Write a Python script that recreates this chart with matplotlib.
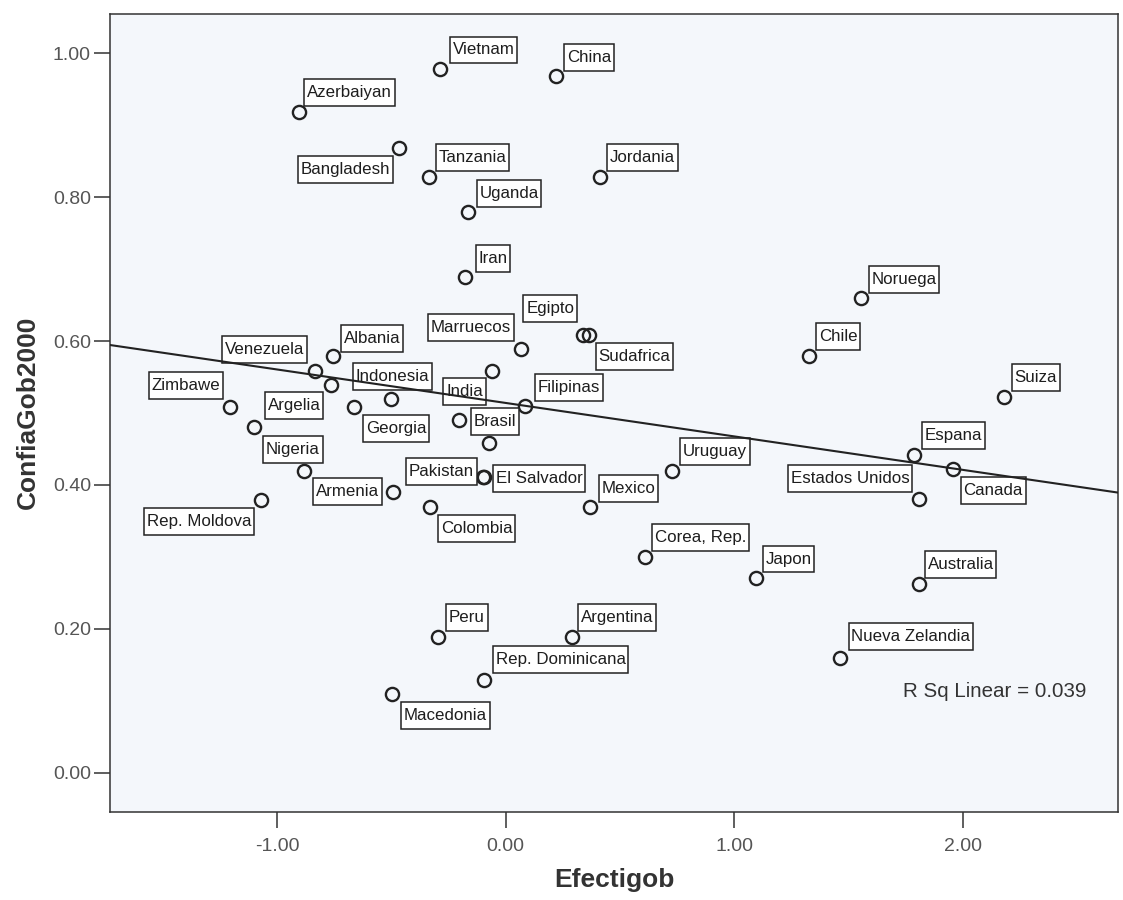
import matplotlib
matplotlib.use('agg')
import matplotlib.pyplot as plt

plt.rcParams['font.family'] = ['Liberation Sans', 'DejaVu Sans']

# data ('' = point without a label)
countries = [
    'Vietnam', 'China', 'Azerbaiyan', 'Bangladesh', 'Tanzania', 'Jordania',
    'Uganda', 'Iran', 'Noruega', 'Egipto', 'Sudafrica', 'Marruecos', 'Chile',
    'Albania', 'Venezuela', '', 'India', 'Indonesia', 'Georgia', 'Zimbawe',
    'Argelia', 'Brasil', 'Filipinas', '', 'Nigeria', 'Armenia', 'Pakistan',
    'El Salvador', 'Colombia', 'Mexico', 'Rep. Moldova', 'Corea, Rep.',
    'Uruguay', 'Espana', 'Canada', 'Estados Unidos', 'Suiza', 'Japon',
    'Australia', 'Nueva Zelandia', 'Peru', 'Argentina', 'Rep. Dominicana',
    'Macedonia',
]
efectigob = [
    -0.286, 0.222, -0.906, -0.466, -0.336, 0.413,
    -0.164, -0.178, 1.555, 0.338, 0.363, 0.069, 1.329,
    -0.755, -0.833, -0.763, -0.061, -0.502, -0.664, -1.208,
    -1.103, -0.205, 0.084, -0.072, -0.884, -0.491, -0.100,
    -0.095, -0.330, 0.371, -1.072, 0.608,
    0.727, 1.788, 1.957, 1.808, 2.183, 1.094,
    1.811, 1.465, -0.294, 0.292, -0.095,
    -0.497,
]
confia_gob = [
    0.978, 0.968, 0.919, 0.869, 0.828, 0.828,
    0.779, 0.689, 0.660, 0.609, 0.609, 0.589, 0.579,
    0.579, 0.559, 0.539, 0.559, 0.519, 0.509, 0.509,
    0.480, 0.490, 0.510, 0.459, 0.419, 0.390, 0.411,
    0.411, 0.370, 0.370, 0.379, 0.300,
    0.420, 0.442, 0.422, 0.381, 0.522, 0.270,
    0.262, 0.160, 0.188, 0.189, 0.129,
    0.109,
]

fit_intercept = 0.514
fit_slope = -0.0465
r_sq = 0.039

xticks = [-1.0, 0.0, 1.0, 2.0]
yticks = [0.0, 0.2, 0.4, 0.6, 0.8, 1.0]

# label box placement: offset of the touching box corner from the point
# (pixels, y down) and which corner / side of the box it is
label_place = {
    'Vietnam': (9.6, -5.7, 'left', 'bottom'),
    'China': (7.9, -5.3, 'left', 'bottom'),
    'Azerbaiyan': (5.7, -5.7, 'left', 'bottom'),
    'Bangladesh': (-6.3, 8.4, 'right', 'top'),
    'Tanzania': (6.8, -5.7, 'left', 'bottom'),
    'Jordania': (7.1, -5.7, 'left', 'bottom'),
    'Uganda': (8.6, -5.0, 'left', 'bottom'),
    'Iran': (10.7, -5.0, 'left', 'bottom'),
    'Noruega': (7.8, -5.4, 'left', 'bottom'),
    'Egipto': (-6.0, -13.0, 'right', 'bottom'),
    'Sudafrica': (7.1, 8.0, 'left', 'top'),
    'Marruecos': (-7.8, -7.6, 'right', 'bottom'),
    'Chile': (7.1, -6.0, 'left', 'bottom'),
    'Albania': (7.8, -4.3, 'left', 'bottom'),
    'Venezuela': (-8.3, -7.4, 'right', 'bottom'),
    'India': (-6.1, 7.6, 'right', 'top'),
    'Indonesia': (1.7, -9.0, 'center', 'bottom'),
    'Georgia': (9.3, 8.3, 'left', 'top'),
    'Zimbawe': (-6.4, -7.7, 'right', 'bottom'),
    'Argelia': (11.4, -8.3, 'left', 'bottom'),
    'Brasil': (11.8, 1.7, 'left', 'center'),
    'Filipinas': (10.0, -5.0, 'left', 'bottom'),
    'Nigeria': (-10.8, -8.7, 'center', 'bottom'),
    'Armenia': (-11.5, -0.3, 'right', 'center'),
    'Pakistan': (-6.1, -5.1, 'right', 'center'),
    'El Salvador': (9.0, 1.4, 'left', 'center'),
    'Colombia': (8.2, 8.3, 'left', 'top'),
    'Mexico': (8.2, -5.0, 'left', 'bottom'),
    'Rep. Moldova': (-6.4, 8.3, 'right', 'top'),
    'Corea, Rep.': (7.4, -5.7, 'left', 'bottom'),
    'Uruguay': (8.6, -5.7, 'left', 'bottom'),
    'Espana': (8.2, -5.7, 'left', 'bottom'),
    'Canada': (8.1, 7.7, 'left', 'top'),
    'Estados Unidos': (-6.4, -6.6, 'right', 'bottom'),
    'Suiza': (7.4, -6.3, 'left', 'bottom'),
    'Japon': (7.2, -6.0, 'left', 'bottom'),
    'Australia': (5.4, -6.0, 'left', 'bottom'),
    'Nueva Zelandia': (8.2, -7.3, 'left', 'bottom'),
    'Peru': (7.8, -6.3, 'left', 'bottom'),
    'Argentina': (6.1, -5.7, 'left', 'bottom'),
    'Rep. Dominicana': (9.0, -6.7, 'left', 'bottom'),
    'Macedonia': (8.9, 7.4, 'left', 'top'),
}

fig = plt.figure(figsize=(11.23, 9), dpi=100)
ax = fig.add_axes([110 / 1123, 1 - 811.7 / 900, 1008 / 1123, 798.1 / 900])
ax.set_facecolor('#f4f7fb')
ax.set_xlim(-1.7316, 2.68)
ax.set_ylim(-0.0542, 1.0552)

ax.plot(efectigob, confia_gob, 'o', ms=9.5, mfc='none', mec='#222222', mew=1.7, zorder=2)

lab_size = 12.2
box_pad = 0.16
box_aspect = 2.2
pad_h = box_pad * lab_size * 100 / 72
pad_v = pad_h * box_aspect
for name, x, y in zip(countries, efectigob, confia_gob):
    if not name:
        continue
    dx, dy, ha, va = label_place[name]
    tx = dx + {'left': pad_h, 'right': -pad_h, 'center': 0}[ha]
    ty = -dy + {'bottom': pad_v, 'top': -pad_v, 'center': 0}[va]
    ax.annotate(name, (x, y), xytext=(tx, ty), textcoords='offset pixels',
                ha=ha, va=va, fontsize=lab_size, color='#1e1e1e', zorder=3,
                bbox=dict(boxstyle='square,pad=%.2f' % box_pad, fc='white',
                          ec='#222222', lw=1.1, mutation_aspect=box_aspect))

x0, x1 = ax.get_xlim()
ax.plot([x0, x1], [fit_intercept + fit_slope * x0, fit_intercept + fit_slope * x1],
        color='#222222', lw=1.5, zorder=4)

ax.text(0.787, 0.151, 'R Sq Linear = %.3f' % r_sq, transform=ax.transAxes,
        fontsize=14.8, color='#333333', ha='left', va='center')

ax.set_xticks(xticks)
ax.set_xticklabels(['%.2f' % t for t in xticks])
ax.set_yticks(yticks)
ax.set_yticklabels(['%.2f' % t for t in yticks])
ax.tick_params(direction='out', length=11.5, width=1.1, color='#333333',
               labelsize=14, labelcolor='#555555')
ax.tick_params(axis='x', pad=7.5)
ax.tick_params(axis='y', pad=2.2)
for s in ax.spines.values():
    s.set_color('#333333')
    s.set_linewidth(1.1)

ax.set_xlabel('Efectigob', fontsize=19, fontweight='bold', color='#333333', labelpad=9)
ax.set_ylabel('ConfiaGob2000', fontsize=19, fontweight='bold', color='#333333', labelpad=9)

fig.savefig('out.png', dpi=100)
